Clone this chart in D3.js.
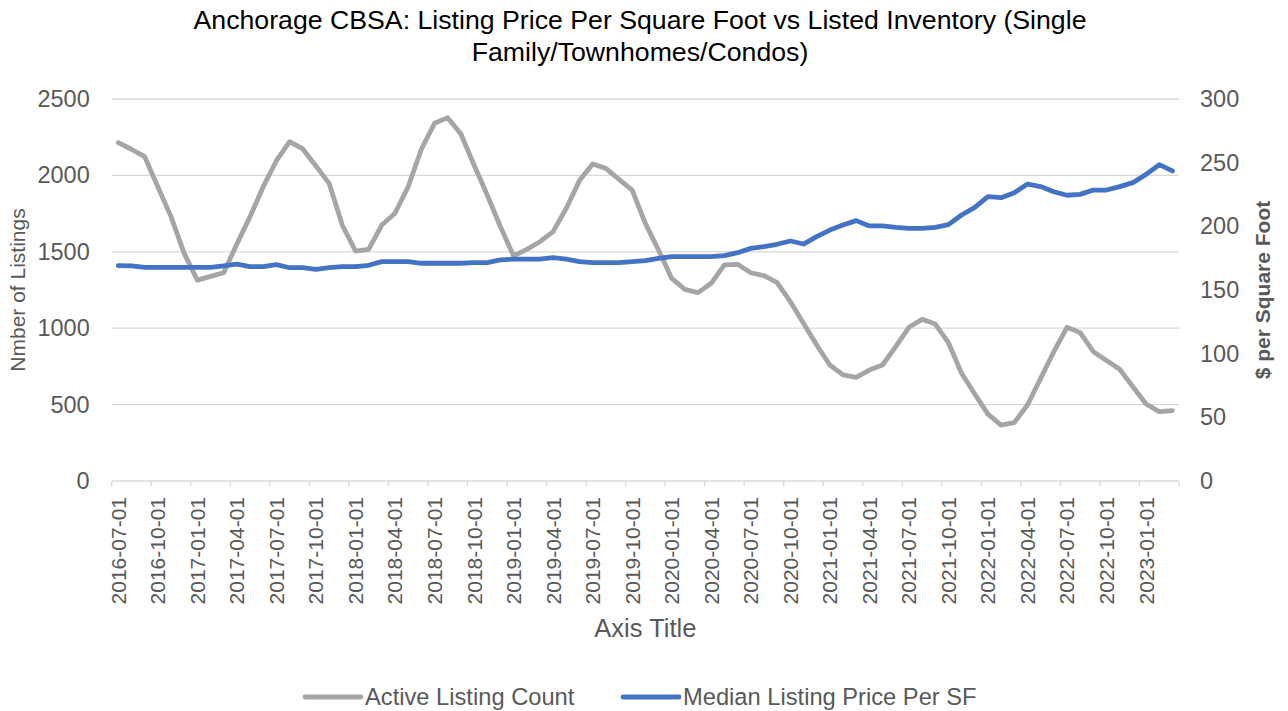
<!DOCTYPE html>
<html>
<head>
<meta charset="utf-8">
<script src="https://cdn.jsdelivr.net/npm/d3@7"></script>
<style>
  html, body { margin: 0; padding: 0; background: #fff; }
  svg { display: block; font-family: "Liberation Sans", Arial, sans-serif; }
</style>
</head>
<body>
<svg id="chart" width="1288" height="711"></svg>
<script>
// ---------------- data ----------------
const startMonth = "2016-07-01";
const monthCount = 81; // 2016-07-01 .. 2023-03-01
const activeListingCount = [
  2214, 2171, 2123, 1926, 1730, 1490, 1315, 1339, 1363, 1551,
  1730, 1926, 2096, 2221, 2173, 2061, 1948, 1675, 1505, 1516,
  1675, 1752, 1926, 2171, 2341, 2378, 2271, 2068, 1872, 1664,
  1473, 1516, 1566, 1632, 1785, 1966, 2075, 2046, 1974, 1904,
  1686, 1512, 1326, 1254, 1233, 1294, 1414, 1418, 1363, 1344,
  1298, 1174, 1032, 890, 759, 694, 678, 726, 759, 879,
  1006, 1058, 1027, 905, 705, 569, 438, 366, 382, 497,
  672, 846, 1006, 971, 846, 788, 731, 617, 504, 454,
  460
];
const medianPricePerSF = [
  169.1, 169.0, 167.8, 167.8, 167.8, 167.8, 167.8, 167.8, 169.0, 170.4,
  168.3, 168.3, 169.9, 167.5, 167.5, 166.2, 167.5, 168.3, 168.3, 169.4,
  172.3, 172.3, 172.3, 171.0, 171.0, 171.0, 171.0, 171.5, 171.5, 173.6,
  174.3, 174.3, 174.3, 175.4, 174.3, 172.3, 171.5, 171.5, 171.5, 172.3,
  173.0, 174.9, 176.2, 176.2, 176.2, 176.2, 177.0, 179.3, 182.7, 184.0,
  185.9, 188.5, 186.1, 191.9, 197.1, 201.0, 204.5, 200.3, 200.3, 199.2,
  198.4, 198.4, 199.2, 201.3, 208.9, 214.9, 223.3, 222.5, 226.4, 233.2,
  231.2, 227.2, 224.4, 225.1, 228.5, 228.5, 231.2, 234.3, 240.8, 248.4,
  243.5
];
const leftTicks = [0, 500, 1000, 1500, 2000, 2500];
const rightTicks = [0, 50, 100, 150, 200, 250, 300];
const seriesNames = ["Active Listing Count", "Median Listing Price Per SF"];
const titleLines = ["Anchorage CBSA: Listing Price Per Square Foot vs Listed Inventory (Single", "Family/Townhomes/Condos)"];
const xAxisTitle = "Axis Title";
const leftAxisTitle = "Nmber of Listings";
const rightAxisTitle = "$ per Square Foot";

// category labels (monthly dates)
const fmt = d3.timeFormat("%Y-%m-%d");
const start = d3.timeParse("%Y-%m-%d")(startMonth);
const categories = d3.range(monthCount).map(i => fmt(d3.timeMonth.offset(start, i)));

// ---------------- layout ----------------
const L = 111.7, R = 1179, T = 99, B = 481;
const grayC = "#A5A5A5", blueC = "#4472C4", textC = "#595959", gridC = "#D9D9D9";

const svg = d3.select("#chart");

const x = d3.scaleBand().domain(categories).range([L, R]).paddingInner(0).paddingOuter(0);
const cx = d => x(d) + x.bandwidth() / 2;
const yL = d3.scaleLinear().domain([0, 2500]).range([B, T]);
const yR = d3.scaleLinear().domain([0, 300]).range([B, T]);

// gridlines
svg.append("g").selectAll("line").data(leftTicks.filter(v => v > 0)).join("line")
  .attr("x1", L).attr("x2", R)
  .attr("y1", d => yL(d)).attr("y2", d => yL(d))
  .attr("stroke", gridC).attr("stroke-width", 1.3);

// left axis
const gLeft = svg.append("g").attr("transform", `translate(${L},0)`)
  .call(d3.axisLeft(yL).tickValues(leftTicks).tickFormat(d3.format("d")).tickSize(0).tickPadding(22));
gLeft.select(".domain").remove();
gLeft.selectAll("text").attr("fill", textC).style("font-size", "23.5px")
  .style("font-family", "'Liberation Sans', Arial, sans-serif");

// right axis
const gRight = svg.append("g").attr("transform", `translate(${R},0)`)
  .call(d3.axisRight(yR).tickValues(rightTicks).tickFormat(d3.format("d")).tickSize(0).tickPadding(21));
gRight.select(".domain").remove();
gRight.selectAll("text").attr("fill", textC).style("font-size", "23.5px")
  .style("font-family", "'Liberation Sans', Arial, sans-serif");

// x axis line + tick marks at category boundaries every 3 months
svg.append("line").attr("x1", L).attr("x2", R).attr("y1", B).attr("y2", B)
  .attr("stroke", gridC).attr("stroke-width", 1.3);
const boundaryIdx = d3.range(0, monthCount + 1, 3);
svg.append("g").selectAll("line").data(boundaryIdx).join("line")
  .attr("x1", i => i < monthCount ? x(categories[i]) : R)
  .attr("x2", i => i < monthCount ? x(categories[i]) : R)
  .attr("y1", B).attr("y2", B + 5.5)
  .attr("stroke", gridC).attr("stroke-width", 1.3);

// x labels (every 3rd category), rotated
const gx = svg.append("g").attr("transform", `translate(0,${B})`)
  .call(d3.axisBottom(x).tickValues(categories.filter((d, i) => i % 3 === 0)).tickSize(0));
gx.select(".domain").remove();
gx.selectAll(".tick text")
  .attr("fill", textC).style("font-size", "21px")
  .style("font-family", "'Liberation Sans', Arial, sans-serif")
  .attr("text-anchor", "end")
  .attr("dy", null)
  .attr("y", 0)
  .attr("x", 0)
  .attr("transform", "translate(7.5,16) rotate(-90)");

// lines
const lineL = d3.line().x((d, i) => cx(categories[i])).y(d => yL(d));
const lineR = d3.line().x((d, i) => cx(categories[i])).y(d => yR(d));
svg.append("path").datum(activeListingCount).attr("d", lineL)
  .attr("fill", "none").attr("stroke", grayC).attr("stroke-width", 4.8)
  .attr("stroke-linejoin", "round").attr("stroke-linecap", "round");
svg.append("path").datum(medianPricePerSF).attr("d", lineR)
  .attr("fill", "none").attr("stroke", blueC).attr("stroke-width", 4.8)
  .attr("stroke-linejoin", "round").attr("stroke-linecap", "round");

// title
svg.append("g").selectAll("text").data(titleLines).join("text")
  .attr("x", 640).attr("y", (d, i) => 29.3 + i * 31.3)
  .attr("text-anchor", "middle").attr("fill", "#000")
  .style("font-size", "26.7px").text(d => d);

// axis titles
svg.append("text").attr("x", (L + R) / 2).attr("y", 636.5)
  .attr("text-anchor", "middle").attr("fill", textC)
  .style("font-size", "25.5px").text(xAxisTitle);
svg.append("text").attr("transform", `translate(25,${(T + B) / 2}) rotate(-90)`)
  .attr("text-anchor", "middle").attr("fill", textC)
  .style("font-size", "21px").text(leftAxisTitle);
svg.append("text").attr("transform", `translate(1270,${(T + B) / 2}) rotate(-90)`)
  .attr("text-anchor", "middle").attr("fill", textC).style("font-weight", "bold")
  .style("font-size", "21px").text(rightAxisTitle);

// legend
const legendItems = [
  { name: seriesNames[0], color: grayC, x0: 305 },
  { name: seriesNames[1], color: blueC, x0: 623 }
];
const lg = svg.append("g").selectAll("g").data(legendItems).join("g");
lg.append("line").attr("x1", d => d.x0).attr("x2", d => d.x0 + 56)
  .attr("y1", 697).attr("y2", 697)
  .attr("stroke", d => d.color).attr("stroke-width", 4.8).attr("stroke-linecap", "round");
lg.append("text").attr("x", d => d.x0 + 60).attr("y", 704.5)
  .attr("fill", textC).style("font-size", "23.7px").text(d => d.name);
</script>
</body>
</html>
